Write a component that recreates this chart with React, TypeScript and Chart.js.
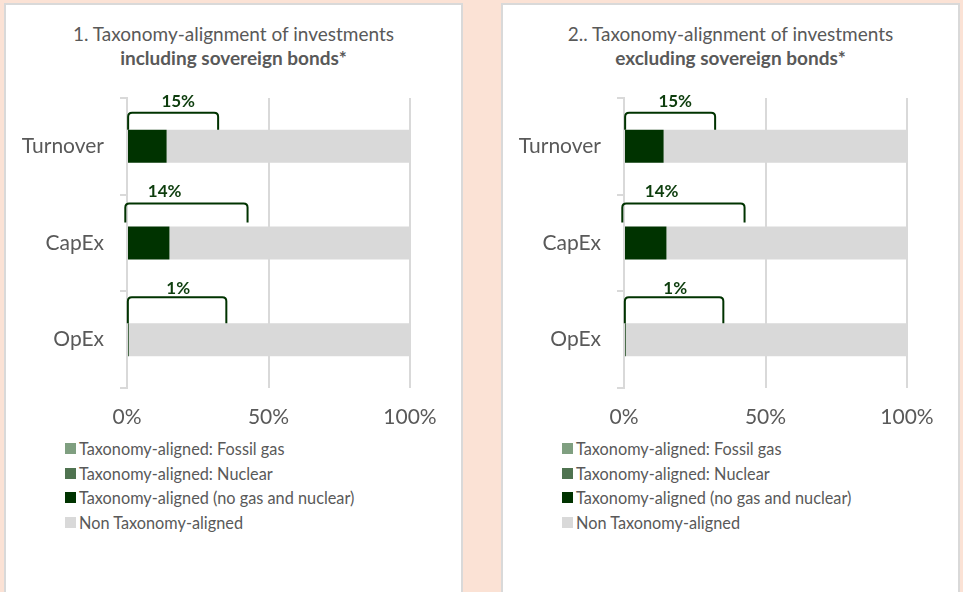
import React, { useEffect, useRef } from "react";
import { Chart, registerables } from "chart.js";

Chart.register(...registerables);

// ---------- data ----------
const categories = ["Turnover", "CapEx", "OpEx"];
const seriesNames = [
  "Taxonomy-aligned: Fossil gas",
  "Taxonomy-aligned: Nuclear",
  "Taxonomy-aligned (no gas and nuclear)",
  "Non Taxonomy-aligned",
];
const seriesColors = ["#7f9f80", "#4f7350", "#003300", "#d9d9d9"];

// panel 1: including sovereign bonds
const fossilGas1 = [0, 0, 0];
const nuclear1 = [0, 0, 0];
const alignedOther1 = [14, 15, 0.6];
const nonAligned1 = [86, 85, 99.4];
const alignedLabels1 = ["15%", "14%", "1%"];

// panel 2: excluding sovereign bonds
const fossilGas2 = [0, 0, 0];
const nuclear2 = [0, 0, 0];
const alignedOther2 = [14, 15, 0.6];
const nonAligned2 = [86, 85, 99.4];
const alignedLabels2 = ["15%", "14%", "1%"];

const xTickValues = [0, 50, 100];

// bracket annotation extents (in axis % units)
const bracketStart = [0.4, -0.6, 0.3];
const bracketEnd = [32.2, 42.6, 35.1];
const bracketLabelAt = [18.1, 13.3, 18.1];

// ---------- styles ----------
const FONT = "Lato, 'Open Sans', sans-serif";
const TEXT_COLOR = "#595959";
const GRID_COLOR = "#d9d9d9";
const BRACKET_COLOR = "#003300";
const LABEL_COLOR = "#0d3d0d";
const bracketRise = [17, 23, 26];
const bracketGap = [0, 4, 0];
const labelRise = [28, 35, 35];

const bracketPlugin = {
  id: "brackets",
  afterDatasetsDraw(chart: any, _args: any, opts: any) {
    const { ctx } = chart;
    const xs = chart.scales.x;
    const meta = chart.getDatasetMeta(3);
    const labels: string[] = opts.labels || [];
    ctx.save();
    meta.data.forEach((el: any, i: number) => {
      const barTop = el.y - el.height / 2;
      const x0 = xs.getPixelForValue(bracketStart[i]);
      const x1 = xs.getPixelForValue(bracketEnd[i]);
      const top = barTop - bracketRise[i];
      const bottom = barTop - bracketGap[i];
      const r = 4;
      ctx.beginPath();
      ctx.moveTo(x0, bottom);
      ctx.lineTo(x0, top + r);
      ctx.quadraticCurveTo(x0, top, x0 + r, top);
      ctx.lineTo(x1 - r, top);
      ctx.quadraticCurveTo(x1, top, x1, top + r);
      ctx.lineTo(x1, bottom);
      ctx.strokeStyle = BRACKET_COLOR;
      ctx.lineWidth = 2;
      ctx.stroke();

      ctx.fillStyle = LABEL_COLOR;
      ctx.font = `bold 17px ${FONT}`;
      ctx.textAlign = "center";
      ctx.textBaseline = "middle";
      ctx.fillText(labels[i], xs.getPixelForValue(bracketLabelAt[i]), barTop - labelRise[i]);
    });
    ctx.restore();
  },
};

type PanelProps = {
  left: number;
  titleLine1: string;
  titleLine2: string;
  series: number[][];
  labels: string[];
};

function Panel({ left, titleLine1, titleLine2, series, labels }: PanelProps) {
  const ref = useRef<HTMLCanvasElement | null>(null);

  useEffect(() => {
    if (!ref.current) return;
    const chart = new Chart(ref.current, {
      type: "bar",
      data: {
        labels: categories,
        datasets: series.map((vals, i) => ({
          label: seriesNames[i],
          data: vals,
          backgroundColor: seriesColors[i],
          borderWidth: 0,
          barPercentage: 0.341,
          categoryPercentage: 1,
        })),
      },
      options: {
        indexAxis: "y",
        responsive: false,
        maintainAspectRatio: false,
        animation: false,
        layout: { padding: { top: 13, right: 51, left: 0, bottom: 0 } },
        plugins: {
          legend: { display: false },
          tooltip: { enabled: false },
          title: { display: false },
          brackets: { labels },
        } as any,
        scales: {
          x: {
            type: "linear",
            stacked: true,
            min: 0,
            max: 100,
            afterBuildTicks: (s: any) => {
              s.ticks = xTickValues.map((v) => ({ value: v }));
            },
            ticks: {
              color: TEXT_COLOR,
              font: { family: FONT, size: 21 },
              padding: 17,
              maxRotation: 0,
              callback: (v: any) => `${v}%`,
            },
            grid: { color: GRID_COLOR, lineWidth: 2, drawTicks: false },
            border: { display: false },
            afterFit: (s: any) => {
              s.height = 47;
              s.paddingLeft = 0;
              s.paddingRight = 0;
              s.paddingTop = 0;
              s.paddingBottom = 0;
            },
          },
          y: {
            stacked: true,
            ticks: {
              color: TEXT_COLOR,
              font: { family: FONT, size: 21 },
              padding: 16,
            },
            grid: {
              drawOnChartArea: false,
              drawTicks: true,
              tickLength: 7,
              color: GRID_COLOR,
              lineWidth: 2,
              offset: true,
            },
            border: { display: true, color: GRID_COLOR, width: 2 },
            afterFit: (s: any) => {
              s.width = 121;
              s.paddingLeft = 0;
              s.paddingRight = 0;
              s.paddingTop = 0;
              s.paddingBottom = 0;
            },
          },
        } as any,
      },
      plugins: [bracketPlugin],
    });
    return () => chart.destroy();
  }, [series, labels]);

  return (
    <div
      style={{
        position: "absolute",
        left,
        top: 3,
        width: 459,
        height: 620,
        background: "#ffffff",
        border: `2px solid ${GRID_COLOR}`,
        boxSizing: "border-box",
        fontFamily: FONT,
      }}
    >
      <div
        style={{
          position: "absolute",
          top: 17,
          left: 0,
          width: "100%",
          textAlign: "center",
          color: TEXT_COLOR,
          fontSize: 19,
          lineHeight: "24px",
        }}
      >
        <div>{titleLine1}</div>
        <div style={{ fontWeight: 700 }}>{titleLine2}</div>
      </div>
      <canvas
        ref={ref}
        width={455}
        height={350}
        style={{ position: "absolute", left: 0, top: 80, width: 455, height: 350 }}
      />
      <div style={{ position: "absolute", left: 59, top: 431 }}>
        {seriesNames.map((name, i) => (
          <div
            key={name}
            style={{
              display: "flex",
              alignItems: "center",
              height: 24.7,
              color: TEXT_COLOR,
              fontSize: 16.3,
              whiteSpace: "nowrap",
            }}
          >
            <span
              style={{
                display: "inline-block",
                width: 11,
                height: 11,
                background: seriesColors[i],
                marginRight: 3,
              }}
            />
            <span>{name}</span>
          </div>
        ))}
      </div>
    </div>
  );
}

const series1 = [fossilGas1, nuclear1, alignedOther1, nonAligned1];
const series2 = [fossilGas2, nuclear2, alignedOther2, nonAligned2];

export default function App() {
  return (
    <div
      style={{
        position: "fixed",
        left: 0,
        top: 0,
        width: 963,
        height: 592,
        background: "#fbe2d5",
        overflow: "hidden",
      }}
    >
      <Panel
        left={4}
        titleLine1="1. Taxonomy-alignment of investments"
        titleLine2="including sovereign bonds*"
        series={series1}
        labels={alignedLabels1}
      />
      <Panel
        left={501}
        titleLine1="2.. Taxonomy-alignment of investments"
        titleLine2="excluding sovereign bonds*"
        series={series2}
        labels={alignedLabels2}
      />
    </div>
  );
}
